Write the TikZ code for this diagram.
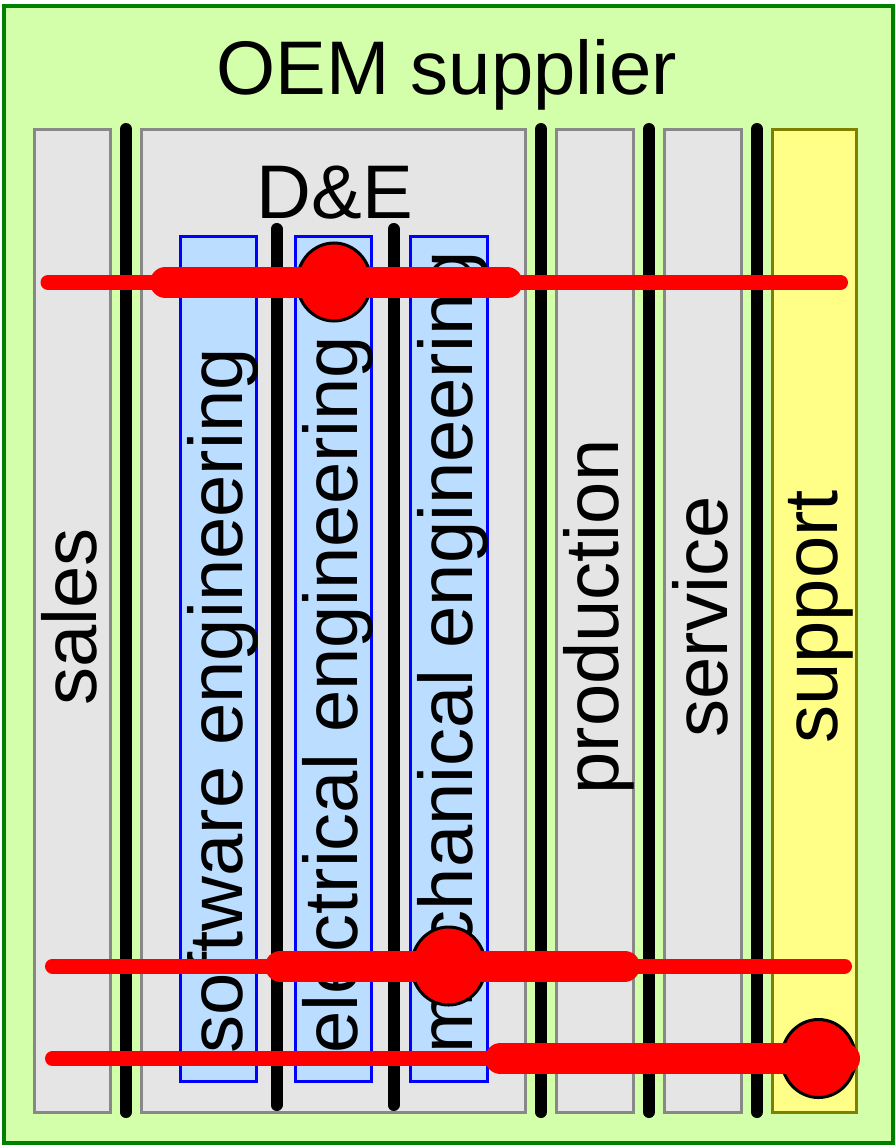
\documentclass[tikz,border=0pt]{standalone}
\usepackage{fontspec}
\setmainfont{Liberation Sans}
\definecolor{bgfill}{RGB}{212,255,170}
\definecolor{bgline}{RGB}{0,128,0}
\definecolor{colfill}{RGB}{229,229,229}
\definecolor{colline}{RGB}{136,136,136}
\definecolor{subfill}{RGB}{187,221,255}
\definecolor{subline}{RGB}{0,0,255}
\definecolor{supfill}{RGB}{255,255,136}
\definecolor{supline}{RGB}{128,128,0}
\definecolor{linkred}{RGB}{255,0,0}
\begin{document}
\begin{tikzpicture}[x=1pt,y=-1pt,
  lbl/.style={font=\fontsize{76}{90}\selectfont, inner sep=0pt},
  vlbl/.style={lbl, rotate=90, anchor=base},
  slbl/.style={lbl, rotate=90, anchor=base west},
  column/.style={draw=colline, fill=colfill, line width=3},
  subcol/.style={draw=subline, fill=subfill, line width=3},
  supcol/.style={draw=supline, fill=supfill, line width=3},
  divider/.style={draw=black, line width=12, line cap=round},
  thinlink/.style={draw=linkred, line width=15, line cap=round},
  thicklink/.style={draw=linkred, line width=31, line cap=round},
  hub/.style={draw=black, fill=linkred, line width=3}]
\useasboundingbox (0,0) rectangle (895,1145);
% outer frame
\draw[draw=bgline, fill=bgfill, line width=4] (4,6) rectangle (893,1143);
\node[lbl, anchor=base] (title) at (447,95) {OEM supplier};
% columns
\draw[column] (34,129.5) rectangle (110,1112);
\draw[column] (141.5,129.5) rectangle (525,1112);
\draw[column] (556.5,129.5) rectangle (633,1112);
\draw[column] (664.5,129.5) rectangle (741,1112);
\draw[supcol] (772.5,129.5) rectangle (856,1112);
\node[lbl, anchor=base] (de) at (335,218) {D\&E};
% sub columns
\draw[subcol] (180,236) rectangle (256.5,1081);
\draw[subcol] (295,236) rectangle (371.5,1081);
\draw[subcol] (410.5,236) rectangle (487.5,1081);
% dividers
\draw[divider] (126,129) -- (126,1112);
\draw[divider] (541,129) -- (541,1112);
\draw[divider] (649,129) -- (649,1112);
\draw[divider] (757,129) -- (757,1112);
\draw[divider] (276.5,229) -- (276.5,1105);
\draw[divider] (393.5,229) -- (393.5,1105);
% labels
\node[vlbl] (sales) at (96,617) {sales};
\node[vlbl] (production) at (618,617) {production};
\node[vlbl] (service) at (727,617) {service};
\node[vlbl] (support) at (837,617) {support};
\node[slbl] (sw) at (242,1054) {software engineering};
\node[slbl] (ee) at (357,1054) {electrical engineering};
\node[slbl] (me) at (472,1054) {mechanical engineering};
% hubs
\draw[hub] (334,282) ellipse [x radius=37, y radius=39];
\draw[hub] (448.5,966) ellipse [x radius=37, y radius=39];
\draw[hub] (818.5,1058.5) ellipse [x radius=37, y radius=39];
% links
\coordinate (a1) at (48,282.5);
\coordinate (a2) at (840.5,282.5);
\coordinate (a3) at (165.5,282.5);
\coordinate (a4) at (507,282.5);
\coordinate (b1) at (52.5,966);
\coordinate (b2) at (844.5,966);
\coordinate (b3) at (280.5,966);
\coordinate (b4) at (624.5,966);
\coordinate (c1) at (52.5,1058.5);
\coordinate (c2) at (844.5,1058.5);
\coordinate (c3) at (500.5,1058.5);
\coordinate (c4) at (844.5,1058.5);
\draw[thinlink] (a1) -- (a2);
\draw[thicklink] (a3) -- (a4);
\draw[thinlink] (b1) -- (b2);
\draw[thicklink] (b3) -- (b4);
\draw[thinlink] (c1) -- (c2);
\draw[thicklink] (c3) -- (c4);
\end{tikzpicture}
\end{document}
